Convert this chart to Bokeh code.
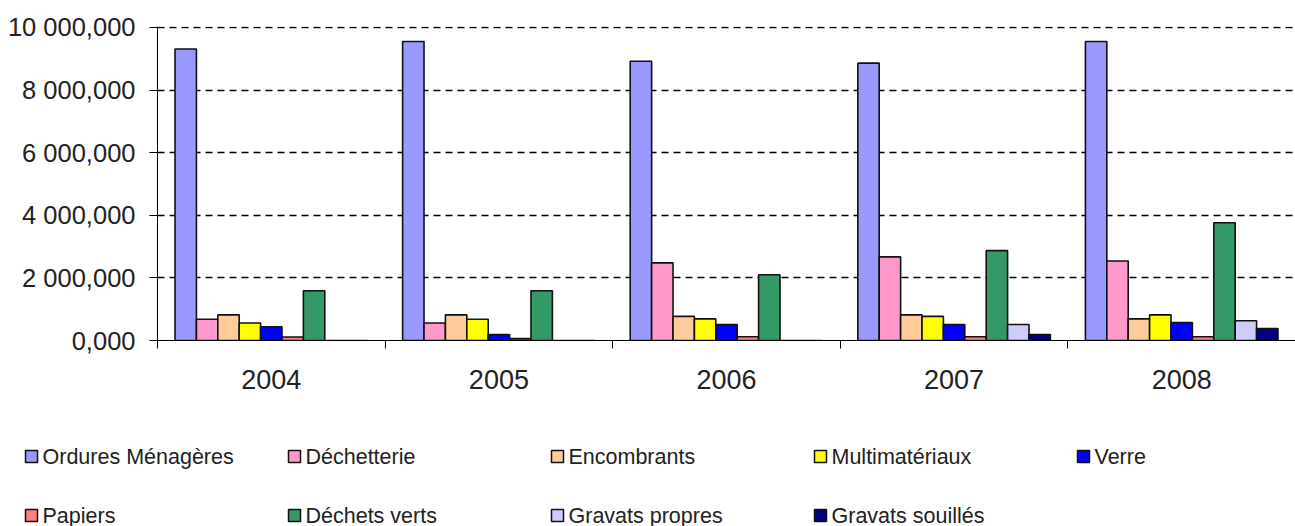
import numpy as np
from bokeh.plotting import figure
from bokeh.layouts import column, row
from bokeh.models import ColumnDataSource, Range1d, FixedTicker
from bokeh.core.properties import value
from bokeh.transform import dodge
from bokeh.embed import file_html
from bokeh.resources import INLINE

years = ["2004", "2005", "2006", "2007", "2008"]
series = ["Ordures Ménagères", "Déchetterie", "Encombrants", "Multimatériaux", "Verre",
          "Papiers", "Déchets verts", "Gravats propres", "Gravats souillés"]
colors = ["#9999FF", "#FF99CC", "#FFCC99", "#FFFF00", "#0000FF",
          "#FF8080", "#339966", "#CCCCFF", "#000080"]

ordures = [9310000, 9550000, 8920000, 8860000, 9550000]
dechetterie = [680000, 560000, 2480000, 2670000, 2540000]
encombrants = [820000, 820000, 770000, 820000, 690000]
multimateriaux = [560000, 680000, 690000, 770000, 820000]
verre = [440000, 190000, 510000, 510000, 570000]
papiers = [110000, 60000, 120000, 120000, 120000]
dechets_verts = [1590000, 1590000, 2100000, 2870000, 3760000]
gravats_propres = [0, 0, 0, 510000, 630000]
gravats_souilles = [0, 0, 0, 190000, 380000]

values = [ordures, dechetterie, encombrants, multimateriaux, verre,
          papiers, dechets_verts, gravats_propres, gravats_souilles]

y_ticks = [0, 2000000, 4000000, 6000000, 8000000, 10000000]
y_tick_labels = ["0,000", "2 000,000", "4 000,000", "6 000,000", "8 000,000", "10 000,000"]

FONT = "Liberation Sans"
TXT = "#222222"
W = 1295

centers = [i + 0.5 for i in range(len(years))]
data = {"x": centers}
for k, v in enumerate(values):
    data["s%d" % k] = v
src = ColumnDataSource(data)

p = figure(width=W, height=400, output_backend="svg", toolbar_location=None,
           x_range=Range1d(0, len(years)), y_range=Range1d(0, 10030000),
           min_border_left=157, min_border_top=26, min_border_bottom=60,
           min_border_right=0)
p.outline_line_color = None
p.background_fill_color = "white"
p.border_fill_color = "white"

bw = 0.094
for k in range(len(series)):
    off = (k - (len(series) - 1) / 2) * bw
    p.vbar(x=dodge("x", off, range=p.x_range), top="s%d" % k, width=bw, source=src,
           fill_color=colors[k], line_color="#111111", line_width=1.6)

# y axis
p.yaxis.ticker = FixedTicker(ticks=y_ticks, minor_ticks=[])
p.yaxis.major_label_overrides = {t: l for t, l in zip(y_ticks, y_tick_labels)}
p.yaxis.major_tick_in = 4
p.yaxis.major_tick_out = 8
p.yaxis.major_label_standoff = 14
p.yaxis.major_label_text_font = FONT
p.yaxis.major_label_text_font_size = "25.5px"
p.yaxis.major_label_text_color = TXT
p.yaxis.axis_line_color = "black"
p.yaxis.major_tick_line_color = "black"

# x axis
p.xaxis.ticker = FixedTicker(ticks=centers, minor_ticks=list(range(len(years) + 1)))
p.xaxis.major_label_overrides = {c: y for c, y in zip(centers, years)}
p.xaxis.major_tick_in = 0
p.xaxis.major_tick_out = 0
p.xaxis.minor_tick_in = 0
p.xaxis.minor_tick_out = 8
p.xaxis.minor_tick_line_color = "black"
p.xaxis.major_label_standoff = 21
p.xaxis.major_label_text_font = FONT
p.xaxis.major_label_text_font_size = "27px"
p.xaxis.major_label_text_color = TXT
p.xaxis.axis_line_color = "black"

p.xgrid.grid_line_color = None
p.ygrid.grid_line_color = "black"
p.ygrid.grid_line_dash = "7 5"
p.ygrid.grid_line_width = 1.5

# legend panel: pixel-space figure, 5 columns x 2 rows
LH = 126
pl = figure(width=W, height=LH, output_backend="svg", toolbar_location=None,
            x_range=Range1d(0, W), y_range=Range1d(LH, 0),
            min_border_left=0, min_border_right=0, min_border_top=0, min_border_bottom=0)
pl.axis.visible = False
pl.grid.visible = False
pl.outline_line_color = None
ncol = 5
col_x0, col_pitch = 24, 263
row_y0, row_pitch = 56, 59
lx = [col_x0 + (k % ncol) * col_pitch for k in range(len(series))]
ly = [row_y0 + (k // ncol) * row_pitch for k in range(len(series))]
lsrc = ColumnDataSource(dict(x=[v + 7 for v in lx], tx=[v + 18 for v in lx], y=ly,
                             label=series, color=colors))
pl.rect(x="x", y="y", width=12, height=12, fill_color="color", line_color="#111111",
        line_width=1.5, source=lsrc)
pl.text(x="tx", y="y", text="label", text_baseline="middle", text_align="left",
        text_font=value(FONT), text_font_size="21.5px", text_color=TXT, source=lsrc)

layout = column(p, row(pl), spacing=0)
open("out.html", "w").write(file_html(layout, INLINE))
